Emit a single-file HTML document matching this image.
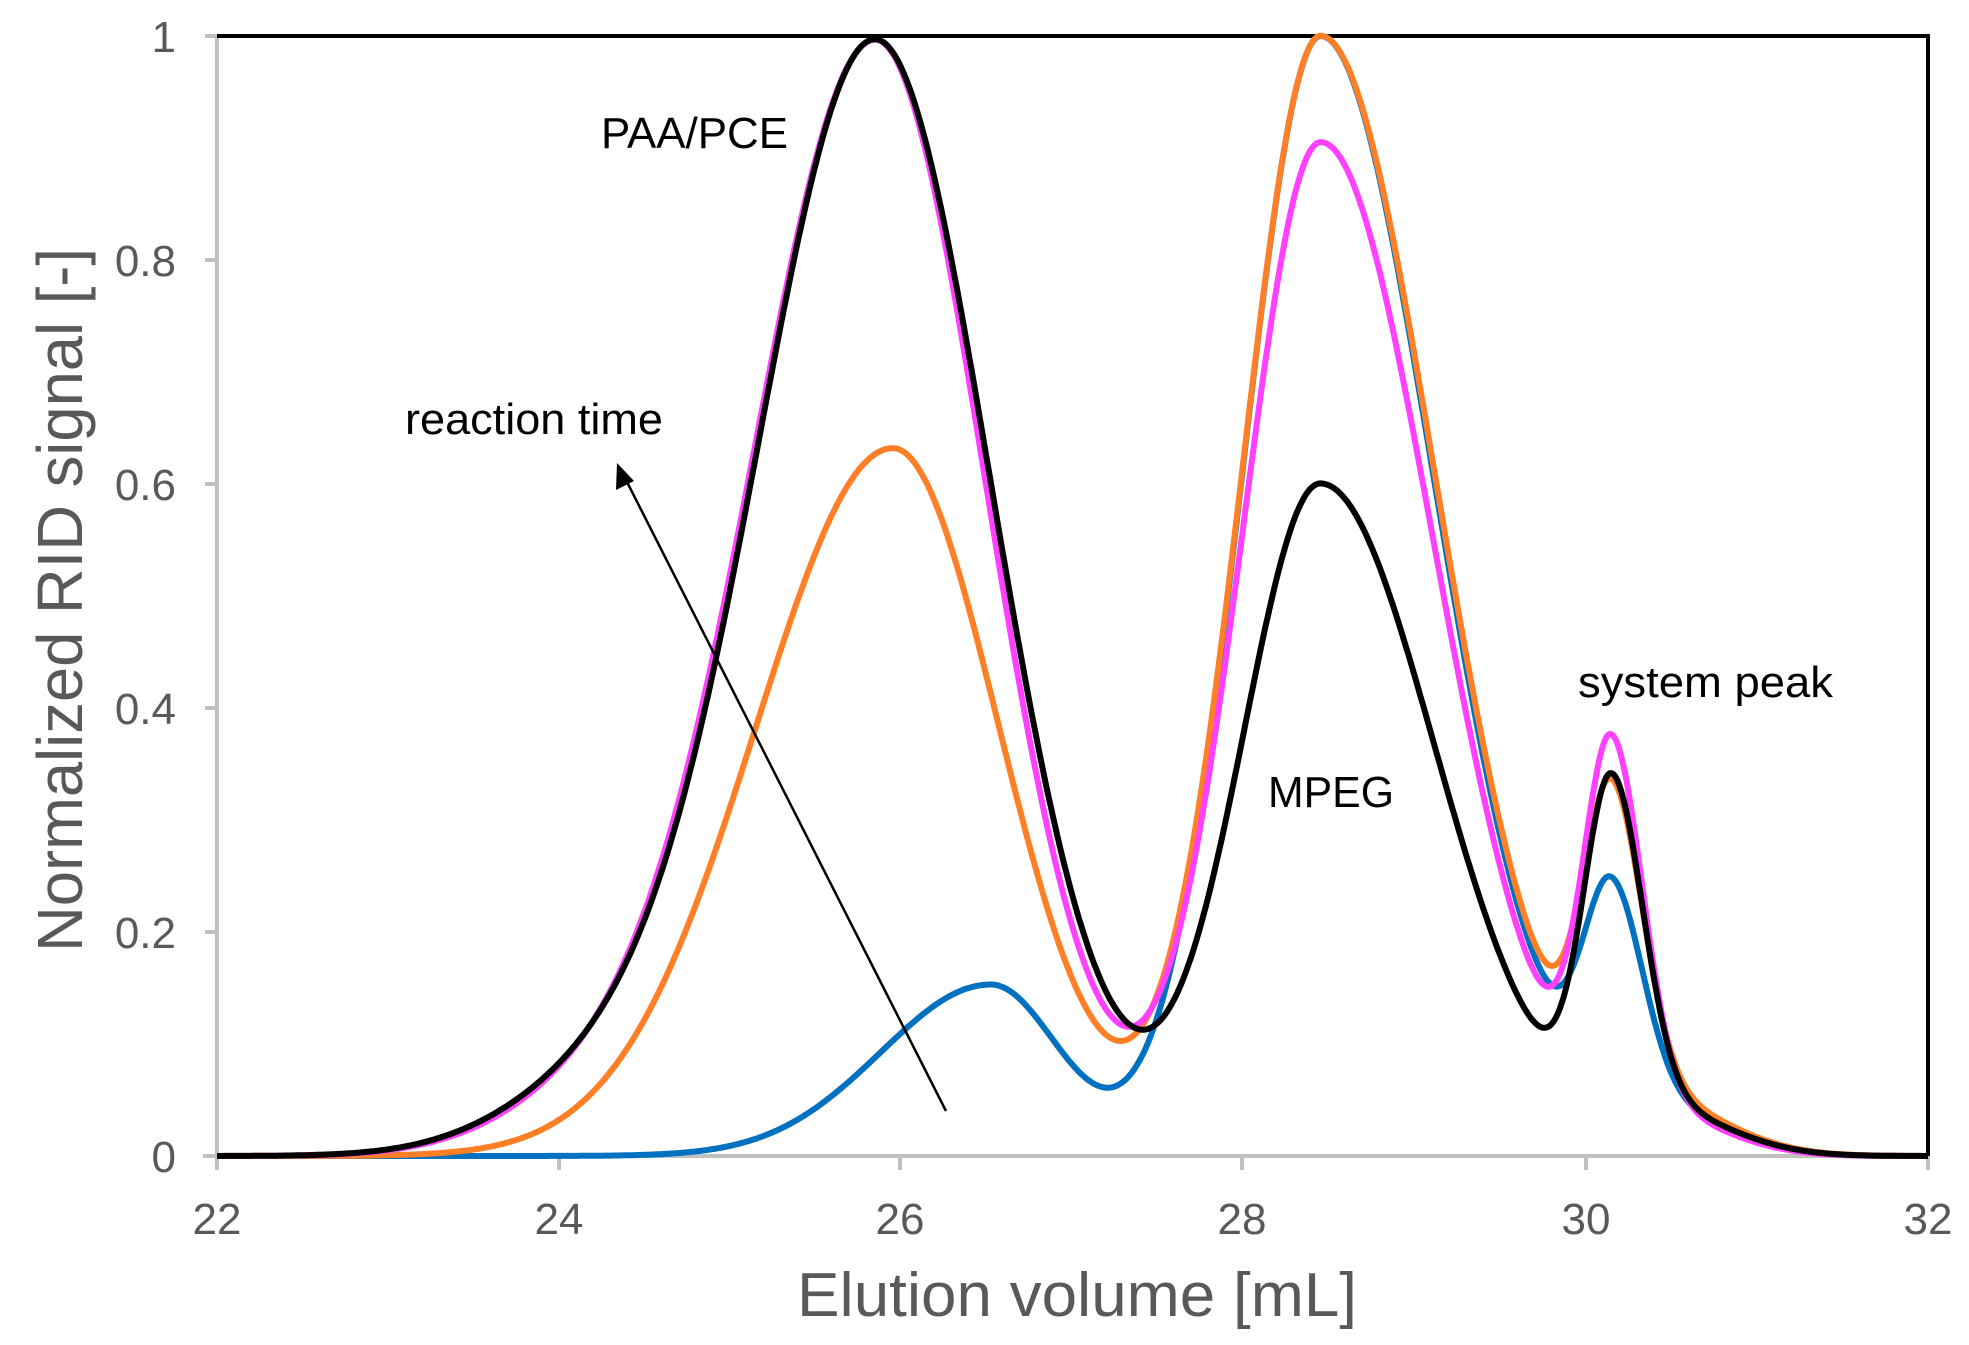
<!DOCTYPE html>
<html><head><meta charset="utf-8"><style>
html,body{margin:0;padding:0;background:#fff;}
svg{display:block;}
</style></head><body>
<svg id="s" width="1969" height="1345" viewBox="0 0 1969 1345" xmlns="http://www.w3.org/2000/svg" font-family="Liberation Sans, Arial, sans-serif">
<rect width="1969" height="1345" fill="#fff"/>
<g stroke="#c0c0c0" stroke-width="4">
<line x1="217" y1="34" x2="217" y2="1158"/>
<line x1="203" y1="1156" x2="1930" y2="1156"/>
<line x1="205" y1="36" x2="217" y2="36"/>
<line x1="205" y1="260" x2="217" y2="260"/>
<line x1="205" y1="484" x2="217" y2="484"/>
<line x1="205" y1="708" x2="217" y2="708"/>
<line x1="205" y1="932" x2="217" y2="932"/>
<line x1="217" y1="1156" x2="217" y2="1170"/>
<line x1="559" y1="1156" x2="559" y2="1170"/>
<line x1="900" y1="1156" x2="900" y2="1170"/>
<line x1="1242" y1="1156" x2="1242" y2="1170"/>
<line x1="1586" y1="1156" x2="1586" y2="1170"/>
<line x1="1928" y1="1156" x2="1928" y2="1170"/>
</g>
<g stroke="#000" stroke-width="4">
<line x1="217" y1="36" x2="1930" y2="36"/>
<line x1="1928" y1="34" x2="1928" y2="1156"/>
</g>
<g fill="#595959" font-size="44" text-anchor="end">
<text x="176" y="52">1</text>
<text x="176" y="276">0.8</text>
<text x="176" y="500">0.6</text>
<text x="176" y="724">0.4</text>
<text x="176" y="948">0.2</text>
<text x="176" y="1172">0</text>
</g>
<g fill="#595959" font-size="44" text-anchor="middle">
<text x="217" y="1234">22</text>
<text x="559" y="1234">24</text>
<text x="900" y="1234">26</text>
<text x="1242" y="1234">28</text>
<text x="1586" y="1234">30</text>
<text x="1928" y="1234">32</text>
</g>
<text x="1077" y="1316" fill="#595959" font-size="62" text-anchor="middle" textLength="560" lengthAdjust="spacingAndGlyphs">Elution volume [mL]</text>
<text transform="translate(82,600) rotate(-90)" fill="#595959" font-size="64" text-anchor="middle" textLength="704" lengthAdjust="spacingAndGlyphs">Normalized RID signal [-]</text>
<g id="curves" fill="none" stroke-width="6" stroke-linejoin="round"></g>
<g fill="#000" font-size="44">
<text x="601" y="148" textLength="187" lengthAdjust="spacingAndGlyphs">PAA/PCE</text>
<text x="405" y="434" textLength="258" lengthAdjust="spacingAndGlyphs">reaction time</text>
<text x="1268" y="807" textLength="126" lengthAdjust="spacingAndGlyphs">MPEG</text>
<text x="1578" y="697" textLength="255" lengthAdjust="spacingAndGlyphs">system peak</text>
</g>
<line x1="946" y1="1111" x2="625" y2="478" stroke="#000" stroke-width="2.5"/>
<polygon points="617,463 616,490 634,481" fill="#000"/>
</svg>
<script>
function sg(x,A,mu,sl,sr){var s=x<mu?sl:sr;var d=(x-mu)/s;return A*Math.exp(-0.5*d*d);}
var series=[
 {c:"#0070C0",p:[[0.153,26.52,0.64,0.40],[1.0,28.45,0.46,0.66],[0.18,30.15,0.16,0.18],[0.04,30.4,0.4,0.4]]},
 {c:"#FF7F27",p:[[0.632,25.95,0.8,0.62],[1.0,28.45,0.46,0.67],[0.26,30.15,0.16,0.18],[0.045,30.4,0.4,0.42]]},
 {c:"#FF40FF",p:[[0.995,25.85,0.72,0.64],[0.05,24.3,0.6,0.6],[0.905,28.45,0.46,0.66],[0.315,30.15,0.16,0.18],[0.035,30.4,0.4,0.4]]},
 {c:"#000000",p:[[0.995,25.85,0.70,0.67],[0.06,24.3,0.6,0.6],[0.6,28.45,0.46,0.67],[0.285,30.15,0.16,0.18],[0.04,30.4,0.4,0.42]]}
];
var g=document.getElementById("curves"),ns="http://www.w3.org/2000/svg";
series.forEach(function(s){
 var d="";
 for(var i=0;i<=1000;i++){var x=22+i*0.01,y=0;
  s.p.forEach(function(q){y+=sg(x,q[0],q[1],q[2],q[3]);});
  var px=217+(x-22)*171.1,py=1156-y*1120;
  d+=(i?"L":"M")+px.toFixed(1)+","+py.toFixed(1);}
 var p=document.createElementNS(ns,"path");p.setAttribute("d",d);p.setAttribute("stroke",s.c);g.appendChild(p);
});
</script>
</body></html>
